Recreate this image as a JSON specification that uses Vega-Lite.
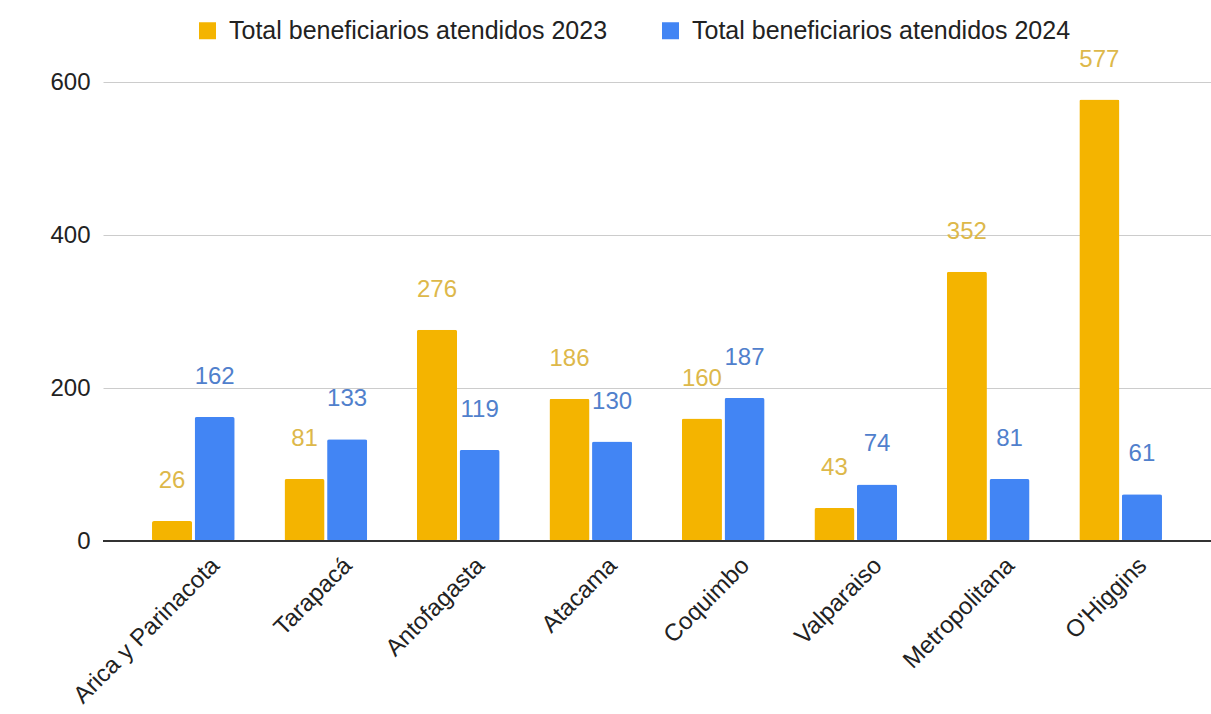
{
  "$schema": "https://vega.github.io/schema/vega-lite/v6.json",
  "width": 1108,
  "height": 459,
  "autosize": {"type": "none"},
  "padding": {"left": 103, "top": 82, "right": 0, "bottom": 173},
  "background": "white",
  "config": {"view": {"stroke": null}, "font": "Liberation Sans"},
  "data": {"values": [
    {"region": "Arica y Parinacota", "serie": "Total beneficiarios atendidos 2023", "value": 26},
    {"region": "Arica y Parinacota", "serie": "Total beneficiarios atendidos 2024", "value": 162},
    {"region": "Tarapacá", "serie": "Total beneficiarios atendidos 2023", "value": 81},
    {"region": "Tarapacá", "serie": "Total beneficiarios atendidos 2024", "value": 133},
    {"region": "Antofagasta", "serie": "Total beneficiarios atendidos 2023", "value": 276},
    {"region": "Antofagasta", "serie": "Total beneficiarios atendidos 2024", "value": 119},
    {"region": "Atacama", "serie": "Total beneficiarios atendidos 2023", "value": 186},
    {"region": "Atacama", "serie": "Total beneficiarios atendidos 2024", "value": 130},
    {"region": "Coquimbo", "serie": "Total beneficiarios atendidos 2023", "value": 160},
    {"region": "Coquimbo", "serie": "Total beneficiarios atendidos 2024", "value": 187},
    {"region": "Valparaiso", "serie": "Total beneficiarios atendidos 2023", "value": 43},
    {"region": "Valparaiso", "serie": "Total beneficiarios atendidos 2024", "value": 74},
    {"region": "Metropolitana", "serie": "Total beneficiarios atendidos 2023", "value": 352},
    {"region": "Metropolitana", "serie": "Total beneficiarios atendidos 2024", "value": 81},
    {"region": "O'Higgins", "serie": "Total beneficiarios atendidos 2023", "value": 577},
    {"region": "O'Higgins", "serie": "Total beneficiarios atendidos 2024", "value": 61}
  ]},
  "encoding": {
    "x": {
      "field": "region", "type": "nominal", "sort": null,
      "scale": {"paddingInner": 0.376, "paddingOuter": 0.37},
      "axis": {"title": null, "labelAngle": -45, "labelFontSize": 24, "labelColor": "#222222", "domain": false, "ticks": false, "labelPadding": 12, "labelOffset": 14, "grid": false, "labelLimit": 400}
    },
    "xOffset": {"field": "serie", "type": "nominal", "scale": {"paddingInner": 0.06}},
    "y": {
      "field": "value", "type": "quantitative",
      "scale": {"domain": [0, 600], "nice": false},
      "axis": {"title": null, "values": [0, 200, 400, 600], "labelFontSize": 24, "labelColor": "#222222", "grid": true, "gridColor": "#cccccc", "domain": false, "ticks": false, "labelPadding": 13}
    }
  },
  "layer": [
    {
      "mark": {"type": "bar", "cornerRadius": 2},
      "encoding": {
        "color": {
          "field": "serie", "type": "nominal",
          "scale": {"range": ["#F4B400", "#4285F4"]},
          "legend": {"title": null, "orient": "none", "direction": "horizontal", "legendX": 92, "legendY": -64, "symbolType": "square", "symbolSize": 289, "symbolStrokeWidth": 0, "symbolOpacity": 1, "labelFontSize": 25, "labelColor": "#222222", "columnPadding": 50, "labelOffset": 9, "labelLimit": 600}
        }
      }
    },
    {
      "mark": {"type": "text", "dy": -40, "baseline": "middle", "fontSize": 24},
      "encoding": {
        "text": {"field": "value", "type": "quantitative"},
        "color": {"condition": {"test": "datum.serie == 'Total beneficiarios atendidos 2023'", "value": "#DDB84A"}, "value": "#5080CC"}
      }
    },
    {
      "mark": {"type": "rule", "color": "#333333", "strokeWidth": 1.5},
      "encoding": {"y": {"datum": 0}, "x": null, "xOffset": null}
    }
  ]
}
